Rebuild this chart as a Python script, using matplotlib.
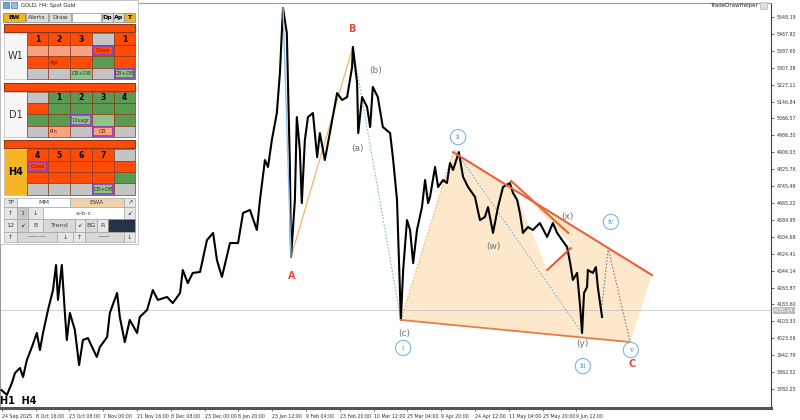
import matplotlib
matplotlib.use('Agg')
import matplotlib.pyplot as plt
from matplotlib.patches import Rectangle, Polygon
import numpy as np

# ---------------- data ----------------
bars = [4, 18, 31, 39, 52, 60, 70, 83, 96, 104, 112, 125, 138, 146, 151, 161, 169, 174, 182, 195,
        206, 216, 229, 252, 260, 279, 286, 305, 312, 325, 338, 357, 364, 383, 398, 411, 435, 450, 469, 476,
        489, 502, 521, 539, 555, 565, 578, 599, 620, 633, 651, 669, 677, 690, 698, 708, 721, 729, 737, 747,
        755, 758, 768, 773, 781, 786, 794, 802, 815, 826, 833, 846, 859, 878, 891, 904, 917, 919, 930, 933,
        943, 956, 964, 971, 984, 997, 1016, 1024, 1034, 1037, 1044, 1050, 1060, 1068, 1076, 1086, 1099, 1107, 1115, 1120,
        1133, 1141, 1154, 1164, 1172, 1180, 1195, 1206, 1219, 1237, 1250, 1263, 1271, 1284, 1297, 1310, 1328, 1336, 1347, 1354,
        1362, 1375, 1388, 1406, 1425, 1440, 1451, 1464, 1477, 1485, 1492, 1503, 1511, 1516, 1521, 1529, 1531, 1544, 1552, 1557, 1568]
prices = [3777, 3754, 3811, 3858, 3882, 3839, 3920, 3981, 4048, 3967, 4048, 4157, 4252, 4371, 4205, 4371, 4143, 4015, 4143, 4062,
          3896, 4015, 4024, 3934, 3981, 4029, 4143, 4238, 4124, 4005, 4110, 4048, 4124, 4157, 4252, 4205, 4219, 4190, 4238, 4347,
          4285, 4333, 4338, 4489, 4523, 4394, 4314, 4475, 4475, 4618, 4632, 4537, 4679, 4869, 4836, 4964, 5092, 5282, 5591, 5472,
          4836, 4409, 4679, 5073, 4917, 4665, 4964, 5073, 5092, 4883, 4997, 4869, 4997, 5187, 5154, 5168, 5311, 5406, 5235, 4997,
          5168, 5121, 5026, 5216, 5168, 5026, 4997, 4869, 4679, 4504, 4110, 4347, 4584, 4537, 4380, 4537, 4646, 4774, 4665, 4694,
          4836, 4741, 4774, 4760, 4855, 4822, 4907, 4789, 4741, 4694, 4584, 4599, 4646, 4523, 4646, 4741, 4760, 4713, 4679, 4618,
          4523, 4551, 4537, 4570, 4504, 4570, 4523, 4489, 4456, 4380, 4300, 4333, 4171, 4048, 4238, 4266, 4347, 4333, 4361, 4266, 4124]

current_price = 4155.14

x_tick_pos = [5, 93, 181, 269, 357, 445, 533, 621, 709, 797, 885, 973, 1061, 1149, 1237, 1325, 1413, 1501]
x_tick_labels = ["24 Sep 2025", "8 Oct 16:00", "23 Oct 08:00", "7 Nov 00:00", "21 Nov 16:00", "8 Dec 08:00",
                 "23 Dec 00:00", "8 Jan 20:00", "23 Jan 12:00", "9 Feb 04:00", "23 Feb 20:00", "10 Mar 12:00",
                 "25 Mar 04:00", "9 Apr 20:00", "24 Apr 12:00", "11 May 04:00", "25 May 20:00", "9 Jun 12:00"]
y_tick_vals = [3782.25, 3862.52, 3942.79, 4023.06, 4103.33, 4183.60, 4263.87, 4344.14, 4424.41, 4504.68,
               4584.95, 4665.22, 4745.49, 4825.76, 4906.03, 4986.30, 5066.57, 5146.84, 5227.11, 5307.38,
               5387.65, 5467.92, 5548.19]

# Wave labels: (text, bar, price)
abc_labels = [("A", 761, 4319), ("B", 917, 5491), ("C", 1646, 3901)]
sub_labels = [("(a)", 930, 4926), ("(b)", 978, 5292), ("(c)", 1052, 4048),
              ("(w)", 1286, 4461), ("(x)", 1478, 4599), ("(y)", 1518, 3996)]
circ_labels = [("i", 1050, 3977), ("ii", 1193, 4978), ("iii", 1518, 3891),
               ("iv", 1591, 4575), ("v", 1643, 3967)]

# Drawn objects (bar, price) pairs
poly_bars = [1044, 1180, 1698, 1641]
poly_prices = [4110, 4907, 4323, 4005]
tri_bars = [1331, 1485, 1425]
tri_prices = [4770, 4475, 4347]
ab_bars, ab_prices = [758, 919], [4409, 5406]
spike_bars, spike_prices = [737, 758], [5591, 4409]
bc_bars, bc_prices = [919, 1044], [5406, 4110]
iiy_bars, iiy_prices = [1185, 1516], [4917, 4048]
iii_bars, iii_prices = [1044, 1180], [4110, 4907]
top_bars, top_prices = [1180, 1698], [4907, 4323]
bot_bars, bot_prices = [1044, 1641], [4110, 4005]
xa_bars, xa_prices = [1331, 1480], [4770, 4523]
xb_bars, xb_prices = [1425, 1487], [4347, 4451]
proj_bars, proj_prices = [1568, 1584, 1641], [4181, 4451, 4005]

# ---------------- figure ----------------
W, H = 800, 420
fig = plt.figure(figsize=(8, 4.2), dpi=100)
fig.patch.set_facecolor('white')
ax = fig.add_axes([0.0, 1 - 408 / H, 771 / W, 405 / H])
ax.set_facecolor('white')
ax.set_xlim(0, 2008)
ax.set_ylim(3692, 5614.5)

# shaded wave region
ax.add_patch(Polygon(list(zip(poly_bars, poly_prices)), closed=True, fc='#fde8cc', ec='none', zorder=1))
ax.add_patch(Polygon(list(zip(tri_bars, tri_prices)), closed=True, fc='white', ec='none', zorder=1.1))

ax.axhline(current_price, color='#c8c8c8', lw=0.6, zorder=1.2)

ax.plot(ab_bars, ab_prices, color='#f5b46a', lw=0.9, zorder=2)
ax.plot(iii_bars, iii_prices, color='#f5b46a', lw=0.8, ls=(0, (1.5, 1.5)), zorder=2)
ax.plot(bc_bars, bc_prices, color='#7ab8e0', lw=0.8, ls=(0, (1.5, 1.5)), zorder=2)
ax.plot(iiy_bars, iiy_prices, color='#7ab8e0', lw=0.8, ls=(0, (1.5, 1.5)), zorder=2)
ax.plot(proj_bars, proj_prices, color='#8a7a90', lw=0.8, ls=(0, (1.5, 1.5)), zorder=2)

# price
ax.plot(bars, prices, color='black', lw=1.5, zorder=3)
ax.plot(spike_bars, spike_prices, color='#8ec3e8', lw=1.0, zorder=3.5)

ax.plot(top_bars, top_prices, color='#e8603c', lw=1.5, zorder=4)
ax.plot(bot_bars, bot_prices, color='#ea7a45', lw=1.3, zorder=4)
ax.plot(xa_bars, xa_prices, color='#ea6a3c', lw=1.6, zorder=4)
ax.plot(xb_bars, xb_prices, color='#e8483a', lw=1.3, zorder=4)

for t, xb, yp in abc_labels:
    ax.text(xb, yp, t, color='#e8483a', fontsize=7, fontweight='bold', ha='center', va='center', zorder=5)
for t, xb, yp in sub_labels:
    ax.text(xb, yp, t, color='#707070', fontsize=6.5, ha='center', va='center', zorder=5)
for t, xb, yp in circ_labels:
    ax.text(xb, yp, t, color='#5b9bd5', fontsize=5.2, ha='center', va='center', zorder=5,
            family='DejaVu Serif',
            bbox=dict(boxstyle='circle,pad=0.5', fc='white', ec='#7ab8e0', lw=0.8))

# axes styling
ax.yaxis.tick_right()
ax.set_yticks(y_tick_vals)
ax.set_yticklabels(['%.2f' % v for v in y_tick_vals])
ax.set_xticks(x_tick_pos)
ax.set_xticklabels(x_tick_labels, ha='left')
ax.tick_params(axis='both', labelsize=3.4, length=2.5, width=0.5, color='#333', labelcolor='#333', pad=1.5)
for s in ['top', 'left']:
    ax.spines[s].set_color('#999')
    ax.spines[s].set_linewidth(0.8)
ax.spines['right'].set_color('#444')
ax.spines['right'].set_linewidth(0.8)
ax.spines['bottom'].set_color('#555')
ax.spines['bottom'].set_linewidth(2.2)

ax.text(1.004, current_price, '%.2f' % current_price, transform=ax.get_yaxis_transform(),
        fontsize=3.4, color='white', va='center', ha='left',
        bbox=dict(boxstyle='square,pad=0.2', fc='#bdbdbd', ec='none'))
ax.text(0.006, 3712, 'H1  H4', fontsize=7, fontweight='bold', color='black', zorder=6)

# ---------------- overlay panel (pixel coordinates) ----------------
pa = fig.add_axes([0, 0, 1, 1], facecolor='none')
pa.set_xlim(0, W)
pa.set_ylim(H, 0)
pa.axis('off')

pa.text(758, 6, 'TradeDrawHelper', fontsize=4.0, color='#222', ha='right', va='center')
pa.add_patch(Rectangle((760, 2), 7, 7, fc='#e0e0e0', ec='#aaa', lw=0.4))

OR = '#ff4a08'
SAL = '#f9a27f'
GR = '#c4c4c4'
GN = '#5b9a52'
LGN = '#8fc486'
PUR = '#8a3fd1'
EDGE = '#8a3a1a'


def cell(x0, y0, x1, y1, fc, text='', tc='black', fs=5, bold=False, ec=EDGE, lw=0.5, purple=False, ha='center'):
    pa.add_patch(Rectangle((x0, y0), x1 - x0, y1 - y0, fc=fc, ec=ec, lw=lw))
    if purple:
        pa.add_patch(Rectangle((x0 + 0.8, y0 + 0.8), x1 - x0 - 1.6, y1 - y0 - 1.6, fc='none', ec=PUR, lw=1.2))
    if text:
        tx = (x0 + x1) / 2 if ha == 'center' else x0 + 2
        pa.text(tx, (y0 + y1) / 2 + 0.3, text, fontsize=fs, color=tc, ha=ha, va='center',
                fontweight='bold' if bold else 'normal')


pa.add_patch(Rectangle((0, 0), 138, 244, fc='white', ec='#bbbbbb', lw=0.6))
pa.add_patch(Rectangle((3, 2), 6, 6, fc='#6fa0d8', ec='#3060a0', lw=0.4))
pa.add_patch(Rectangle((11, 2), 6, 6, fc='#9fb8e8', ec='#3060a0', lw=0.4))
pa.text(21, 5.5, 'GOLD, H4: Spot Gold', fontsize=3.8, color='#222', va='center')

cell(3, 13, 25, 22, '#f0b429', 'BW', fs=4.5, bold=True, ec='#777')
cell(26, 13, 48, 22, '#dcdcdc', 'Alerts', fs=4.3, ec='#888', tc='#333')
cell(49, 13, 71, 22, '#dcdcdc', 'Draw', fs=4.3, ec='#888', tc='#333')
cell(72, 13, 101, 22, 'white', ec='#888')
cell(102, 13, 113, 22, '#dcdcdc', 'Dp', fs=4.5, bold=True, ec='#888')
cell(113, 13, 124, 22, '#dcdcdc', 'Ap', fs=4.5, bold=True, ec='#888')
cell(124, 13, 135, 22, '#f0b429', 'T', fs=4.5, bold=True, ec='#888')

cols = [(27, 48), (48, 70), (70, 92), (92, 114), (114, 135)]


def section(bar_y, rows, label, label_fc, grid):
    pa.add_patch(Rectangle((4, bar_y[0]), 131, bar_y[1] - bar_y[0], fc=OR, ec=EDGE, lw=0.8))
    cell(4, rows[0][0], 27, rows[-1][1], label_fc, label, fs=7, bold=(label == 'H4'), ec='#bbbbbb',
         tc='#333' if label != 'H4' else 'black')
    for (y0, y1), row in zip(rows, grid):
        for (x0, x1), spec in zip(cols, row):
            fc, txt, pur = spec
            is_num = txt.isdigit()
            tc = 'black' if is_num else ('#7a1500' if fc in (OR, SAL) else '#333')
            cell(x0, y0, x1, y1, fc, txt, tc=tc, fs=5.5 if is_num else 3.8, bold=is_num,
                 purple=pur, ha='center' if (is_num or pur) else 'left')


W1_rows = [(33, 45), (45, 56), (56, 68), (68, 79)]
W1_grid = [
    [(OR, '1', False), (OR, '2', False), (OR, '3', False), (GR, '', False), (OR, '1', False)],
    [(SAL, '', False), (SAL, '', False), (SAL, '', False), (OR, 'Cross', True), (OR, '', False)],
    [(OR, '', False), (OR, 'Agr', False), (OR, '', False), (GN, '', False), (OR, '', False)],
    [(GR, '', False), (GR, '', False), (LGN, 'DB+DB', False), (GR, '', False), (LGN, 'DB+DB', True)],
]
section((24, 32), W1_rows, 'W1', '#f6f6f6', W1_grid)

D1_rows = [(92, 103), (103, 114), (114, 126), (126, 137)]
D1_grid = [
    [(GR, '', False), (GN, '1', False), (GN, '2', False), (GN, '3', False), (GN, '4', False)],
    [(OR, '', False), (GN, '', False), (GN, '', False), (GN, '', False), (GN, '', False)],
    [(GN, '', False), (GN, '', False), (LGN, 'Disagr', True), (LGN, '', False), (GN, '', False)],
    [(GR, '', False), (SAL, 'Pin', False), (GR, '', False), (SAL, 'OB', True), (GR, '', False)],
]
section((83, 91), D1_rows, 'D1', '#f6f6f6', D1_grid)

H4_rows = [(149, 161), (161, 172), (172, 183), (183, 195)]
H4_grid = [
    [(OR, '4', False), (OR, '5', False), (OR, '6', False), (OR, '7', False), (GR, '', False)],
    [(OR, 'Cross', True), (OR, '', False), (OR, '', False), (OR, '', False), (OR, '', False)],
    [(OR, '', False), (OR, '', False), (OR, '', False), (OR, '', False), (GN, '', False)],
    [(GR, '', False), (GR, '', False), (GR, '', False), (LGN, 'DB+DB', True), (GR, '', False)],
]
section((140, 148), H4_rows, 'H4', '#f5b524', H4_grid)

LG = '#e6e6e6'
CE = '#999999'
ctrl = [
    (198, 207, [(4, 17, LG, 'TF'), (17, 70, 'white', 'MM'), (70, 124, '#f0d2a8', 'EWA'), (124, 135, LG, '↗')]),
    (207, 219, [(4, 17, LG, '↑'), (17, 28, '#c8c8c8', '1'), (28, 43, LG, '↓'), (43, 124, 'white', 'a-b-c'),
                (124, 135, LG, '↙')]),
    (219, 232, [(4, 17, LG, '12'), (17, 28, '#d0d0d0', '↙'), (28, 43, LG, 'B'), (43, 75, '#d8d8d8', 'Trend'),
                (75, 85, LG, '↙'), (85, 97, '#d8d8d8', 'BG'), (97, 108, LG, 'R'), (108, 135, '#26324a', '')]),
    (232, 242, [(4, 17, LG, '↑'), (17, 57, '#d8d8d8', '———'), (57, 73, LG, '↓'), (73, 85, LG, '↑'),
                (85, 124, '#d8d8d8', '——'), (124, 135, LG, '↓')]),
]
for y0, y1, items in ctrl:
    for x0, x1, fc, txt in items:
        cell(x0, y0, x1, y1, fc, txt, tc='#444', fs=4.6, ec=CE, lw=0.4)

fig.savefig('out.png', dpi=100, facecolor='white')
